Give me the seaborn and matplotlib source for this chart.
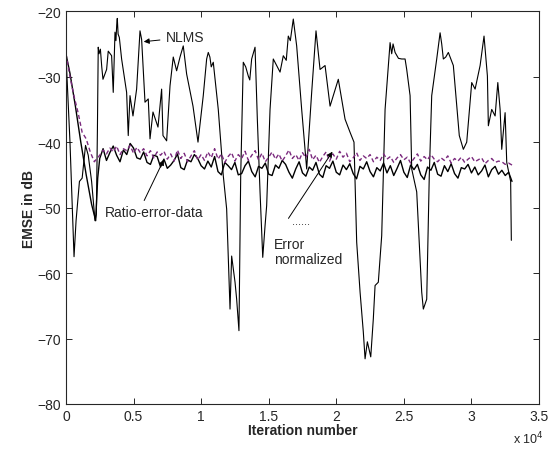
import numpy as np
import matplotlib
matplotlib.use("Agg")
import matplotlib.pyplot as plt
import seaborn as sns

sns.set_style("ticks")
plt.rcParams['font.family'] = ['Liberation Sans', 'DejaVu Sans']

# NLMS curve (iteration, EMSE dB)
nlms_x = [0, 300, 600, 750, 1000, 1200, 1450, 1650, 1900, 2150, 2250, 2330, 2390, 2450,
          2550, 2650, 2740, 3010, 3130, 3380, 3500, 3630, 3700, 3760, 3800, 3860, 3950,
          4120, 4490, 4610, 4740, 4960, 5230, 5480, 5600, 5850, 6090, 6220, 6440, 6810,
          7080, 7180, 7450, 7700, 7940, 8190, 8440, 8680, 8930, 9400, 9770, 10160, 10410,
          10530, 10650, 10750, 10900, 11270, 11640, 11890, 12140, 12260, 12510, 12630,
          12800, 12930, 13120, 13300, 13490, 13600, 13740, 13990, 14160, 14360, 14560,
          14730, 14850, 15100, 15340, 15840, 16080, 16300, 16450, 16600, 16820, 17070,
          17440, 17810, 18180, 18500, 18800, 19170, 19540, 20150, 20650, 21020, 21310,
          21510, 21760, 22000, 22130, 22300, 22550, 22740, 22870, 23110, 23360, 23610,
          23980, 24100, 24200, 24350, 24600, 24840, 25090, 25210, 25460, 25580, 25950,
          26320, 26440, 26690, 26880, 27060, 27430, 27680, 27800, 27920, 28100, 28290,
          28660, 29100, 29400, 29650, 30020, 30270, 30640, 30930, 31180, 31250, 31500,
          31750, 31950, 32120, 32240, 32490, 32610, 32900, 32950]
nlms_y = [-26.5, -40, -57.5, -52, -46, -45.5, -40.5, -42, -46, -52, -51, -38, -25.5, -26.5,
          -25.8, -28.5, -30.4, -28.9, -26.1, -26.8, -32.4, -23.2, -24.5, -22, -21.1, -23.5, -24,
          -27.3, -32.4, -39, -32.9, -36, -31.9, -23, -24.3, -33.9, -33.4, -39.5, -35.4, -37.7,
          -31.9, -39, -39.8, -31.4, -27, -29.1, -27, -25.3, -29.6, -34.5, -40, -32.9, -27.3,
          -26.3, -27, -28.5, -27.8, -35, -45.1, -50.2, -65.5, -57.4, -61.4, -64,
          -68.8, -45.1, -27.8, -28.5, -29.9, -30.5, -27.3, -25.5, -36.5, -47.6, -57.6,
          -52.8, -49.7, -35, -27.3, -29.3, -26.8, -27.5, -23.8, -24.5, -21.2, -25.3,
          -35, -44.1, -32.4, -23, -28.9, -28.3, -34.5, -30.4, -36.5, -38.5, -40,
          -55.3, -62.9, -69, -73.1, -70.5, -72.8, -67, -61.9, -61.4, -54.3, -35,
          -24.8, -26.5, -25, -26.3, -27.2, -27.3, -27.3, -28.9, -32.9, -44.1, -47.6,
          -62.9, -65.5, -64, -45.1, -32.9, -27.3, -23.3, -25, -27.3, -27, -26.3,
          -28.3, -39, -41.1, -40, -30.9, -31.9, -28.3, -23.8, -29.9, -37.5, -35,
          -36, -30.9, -35, -41.1, -35.5, -43.1, -46, -55]

# start of the two other curves
ratio_head_x = [0, 300, 700, 1100, 1500, 1900, 2200, 2350]
ratio_head_y = [-26.5, -29.5, -34.5, -40, -45, -49.5, -52, -45.5]
norm_head_x = [0, 300, 600, 900, 1200, 1500, 1800, 2100, 2300]
norm_head_y = [-26.5, -30, -33, -35.5, -38.5, -39.5, -41.5, -43, -42.5]

# steady part, one reading every 250 iterations from 2500 to 33000
steady_x = np.arange(2500, 33001, 250)
ratio_steady = [
    -42.5, -41.0, -42.8, -41.6, -40.6, -42.0, -43.0, -41.2, -41.9, -40.2, -40.9, -42.4,
    -42.6, -41.5, -43.1, -43.4, -42.0, -42.2, -43.8,
    -42.6, -44.0, -43.5, -42.8, -41.8, -43.9, -44.2, -42.7, -43.0, -41.9, -42.5, -43.6,
    -44.1, -42.9, -43.8, -42.2, -44.5, -45.0, -43.1, -43.6,
    -44.2, -43.1, -45.0, -44.8, -43.6, -42.9, -44.5, -45.3, -43.7, -44.0, -43.2, -44.9,
    -45.1, -43.5, -44.0, -42.8, -43.4, -44.6, -45.5, -44.1, -43.0, -44.7, -45.2, -43.8,
    -44.3, -43.1, -44.9, -45.4, -43.6, -44.0, -42.9, -44.6, -45.0, -43.5, -44.2, -43.3,
    -44.8, -45.6, -43.7, -44.1, -43.0, -44.5, -45.3, -43.9, -44.4, -43.2, -44.7, -43.6,
    -45.1, -44.0, -42.8, -44.6, -45.4, -43.5, -44.2, -43.4, -45.0, -45.7, -43.8, -44.3,
    -43.1, -44.9, -45.2, -43.6, -44.5, -43.3, -44.8, -45.5, -43.9, -44.1, -43.4, -44.7,
    -43.8, -45.0, -44.4, -43.5, -45.3, -44.2, -43.7, -44.9, -44.3, -45.1, -44.6, -46.0]
norm_steady = [
    -42.0, -41.2, -41.8, -40.9, -41.5, -40.6, -41.9, -41.0, -41.3, -40.5, -41.7, -40.8,
    -41.6, -41.0, -42.1, -41.3, -42.4, -41.5, -42.0,
    -41.4, -42.6, -41.8, -42.9, -41.2, -42.5, -41.7, -43.0, -42.1, -41.3, -42.7, -41.9,
    -42.8, -41.5, -42.4, -41.0, -42.6, -41.8, -43.1, -42.2,
    -41.6, -42.9, -41.9, -42.5, -41.4, -42.8, -42.0, -41.3, -42.7, -41.7, -43.0, -42.3,
    -41.5, -42.6, -41.8, -42.9, -42.1, -41.2, -42.5, -41.9,
    -42.8, -41.6, -42.4, -41.1, -42.7, -42.0, -43.1, -42.2, -41.5, -42.9, -41.8, -42.6,
    -41.4, -42.3, -41.7, -43.0, -42.4, -41.6, -42.8, -42.1,
    -42.5, -41.9, -43.0, -42.3, -42.8, -41.8, -42.6, -42.2, -43.1, -42.4, -41.9, -42.7,
    -42.3, -43.2, -42.5, -41.8, -42.9, -42.2, -42.7, -41.9,
    -42.6, -43.0, -42.4, -42.8, -42.1, -43.2, -42.5, -42.9, -42.3, -43.1, -42.6, -42.2,
    -43.0, -42.7, -42.4, -43.3, -42.8, -42.5, -43.1, -42.9,
    -43.0, -43.4, -43.2, -43.5]

ratio_x = np.concatenate([ratio_head_x, steady_x])
ratio_y = np.concatenate([ratio_head_y, ratio_steady])
norm_x = np.concatenate([norm_head_x, steady_x])
norm_y = np.concatenate([norm_head_y, norm_steady])

xticks = [0, 5000, 10000, 15000, 20000, 25000, 30000, 35000]
xtick_labels = ['0', '0.5', '1', '1.5', '2', '2.5', '3', '3.5']
yticks = [-80, -70, -60, -50, -40, -30, -20]

fig = plt.figure(figsize=(5.54, 4.52), dpi=100)
ax = fig.add_axes([0.119, 0.104, 0.854, 0.869])

sns.lineplot(x=nlms_x, y=nlms_y, color='black', lw=0.8, ax=ax, estimator=None, sort=False)
sns.lineplot(x=ratio_x, y=ratio_y, color='black', lw=1.0, ax=ax, estimator=None, sort=False)
sns.lineplot(x=norm_x, y=norm_y, color='#7b2a7e', lw=1.0, ax=ax, estimator=None, sort=False,
             linestyle=(0, (3, 2)))

ax.set_xlim(0, 35000)
ax.set_ylim(-80, -20)
ax.set_xticks(xticks)
ax.set_xticklabels(xtick_labels)
ax.set_yticks(yticks)
ax.tick_params(direction='in', top=True, right=True, labelsize=10, length=4, width=0.7)
for s in ax.spines.values():
    s.set_linewidth(0.8)

ax.set_xlabel('Iteration number', fontsize=10, fontweight='bold', labelpad=0)
ax.set_ylabel('EMSE in dB', fontsize=10, fontweight='bold', labelpad=1)
ax.text(0.945, -0.1, r'x 10$^{4}$', transform=ax.transAxes, fontsize=9)

# annotations
ax.annotate('NLMS', xy=(5550, -24.7), xytext=(7400, -24), fontsize=10, va='center',
            arrowprops=dict(arrowstyle='-|>', color='black', lw=0.7, mutation_scale=8))
ax.annotate('', xy=(7330, -42.3), xytext=(5700, -49.3),
            arrowprops=dict(arrowstyle='-|>', color='black', lw=0.7, mutation_scale=8))
ax.text(2850, -50.6, 'Ratio-error-data', fontsize=10, va='center')
ax.annotate('', xy=(19830, -41.1), xytext=(16350, -52.0),
            arrowprops=dict(arrowstyle='-|>', color='black', lw=0.7, mutation_scale=8))
ax.text(16700, -52.0, '......', fontsize=8, va='center')
ax.text(15400, -56.7, 'Error\nnormalized', fontsize=10, va='center', linespacing=1.1)

fig.savefig('out.png', dpi=100)
